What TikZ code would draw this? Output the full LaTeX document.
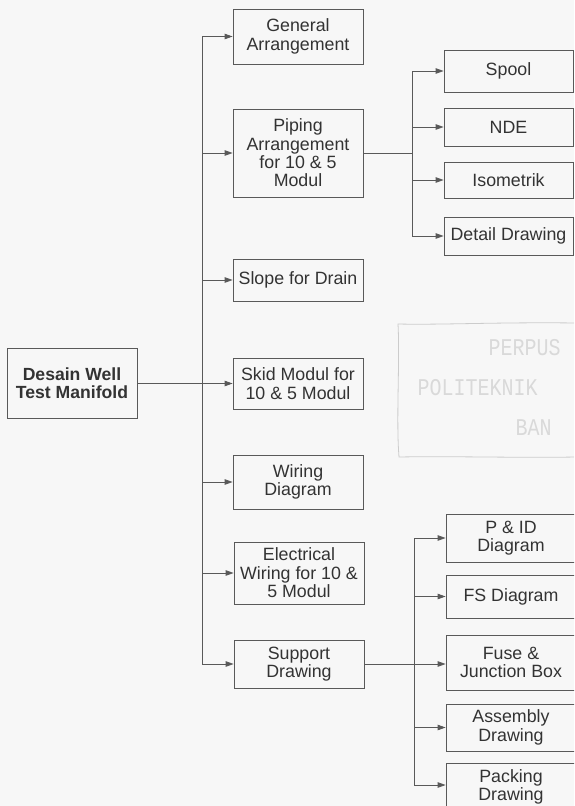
\documentclass[tikz,border=0pt]{standalone}
\usepackage{fontspec}
\setmainfont{Liberation Sans}
\newfontfamily\stampfont{Liberation Mono}
\usetikzlibrary{arrows.meta}
\begin{document}
\begin{tikzpicture}[x=1pt,y=-1pt,
  box/.style={draw=black!65, line width=0.8pt, text=black!80, align=center,
    font=\fontsize{17.8}{18.4}\selectfont, inner sep=0pt},
  midbox/.style={box, minimum width=130pt},
  rbox/.style={box, minimum width=130pt},
  link/.style={draw=black!65, line width=0.8pt},
  arr/.style={link, -{Triangle[length=8pt,width=5.5pt]}},
  stamp/.style={text=black!15, font=\stampfont\fontsize{20}{20}\selectfont, anchor=west, yscale=1.2},
]
\clip (0,0) rectangle (574,806);
\fill[black!3] (0,0) rectangle (574,806);

% root
\node[box, font=\fontsize{17.6}{18.4}\selectfont\bfseries, minimum width=130pt, minimum height=70pt]
  (root) at (72,383) {Desain Well\\Test Manifold};

% second level
\node[midbox, minimum height=55pt] (gen)   at (298,36.5) {General\\Arrangement};
\node[midbox, minimum height=88pt] (pip)   at (298,153)  {Piping\\Arrangement\\for 10 \& 5\\Modul};
\node[midbox, minimum height=42pt] (slope) at (298,280)  {Slope for Drain};
\node[midbox, minimum height=51pt] (skid)  at (298,383.5){Skid Modul for\\10 \& 5 Modul};
\node[midbox, minimum height=54pt] (wir)   at (298,482)  {Wiring\\Diagram};
\node[midbox, minimum height=62pt] (elec)  at (299,573)  {Electrical\\Wiring for 10 \&\\5 Modul};
\node[midbox, minimum height=48pt] (sup)   at (299,664)  {Support\\Drawing};

% piping details
\node[rbox, minimum width=129pt, minimum height=42pt] (spool)  at (508.5,71)  {Spool};
\node[rbox, minimum width=129pt, minimum height=38pt] (nde)    at (508.5,127) {NDE};
\node[rbox, minimum width=129pt, minimum height=36pt] (iso)    at (508.5,180) {Isometrik};
\node[rbox, minimum width=129pt, minimum height=38pt] (detail) at (508.5,236) {Detail Drawing};

% support details
\node[rbox, minimum height=48pt] (pid)  at (511,538)   {P \& ID\\Diagram};
\node[rbox, minimum height=43pt] (fs)   at (511,596.5) {FS Diagram};
\node[rbox, minimum height=55pt] (fuse) at (511,662.5) {Fuse \&\\Junction Box};
\node[rbox, minimum height=47pt] (asm)  at (511,727.5) {Assembly\\Drawing};
\node[rbox, minimum height=48pt] (pack) at (511,787)   {Packing\\Drawing};

% main trunk
\coordinate (t0) at (202,36.5);
\coordinate (t1) at (202,664);
\draw[link] (t0) -- (t1);
\draw[link] (root.east) -- (root.east -| t0);
\foreach \n in {gen,pip,slope,skid,wir,elec,sup}
  \draw[arr] (\n.west -| t0) -- (\n.west);

% piping trunk
\coordinate (p0) at (412,71);
\coordinate (p1) at (412,236);
\draw[link] (p0) -- (p1);
\draw[link] (pip.east) -- (pip.east -| p0);
\foreach \n in {spool,nde,iso,detail}
  \draw[arr] (\n.west -| p0) -- (\n.west);

% support trunk
\coordinate (s0) at (414,538);
\coordinate (s1) at (414,785);
\draw[link] (s0) -- (s1);
\draw[arr] (sup.east) -- (sup.east -| fuse.west);
\foreach \y/\n in {538/pid,596.5/fs,727.5/asm,785/pack}
  \draw[arr] (414,\y) -- (\n.west |- 0,\y);

% library stamp
\draw[black!20, line width=0.8pt]
  (576,323) .. controls (500,322) and (440,325) .. (398,324)
  .. controls (400,360) and (396,420) .. (399,457)
  .. controls (450,456) and (520,458) .. (576,457);
\node[stamp] (st1) at (485,348) {PERPUS};
\node[stamp] (st2) at (414,388) {POLITEKNIK};
\node[stamp] (st3) at (512,428) {BAN};
\end{tikzpicture}
\end{document}
